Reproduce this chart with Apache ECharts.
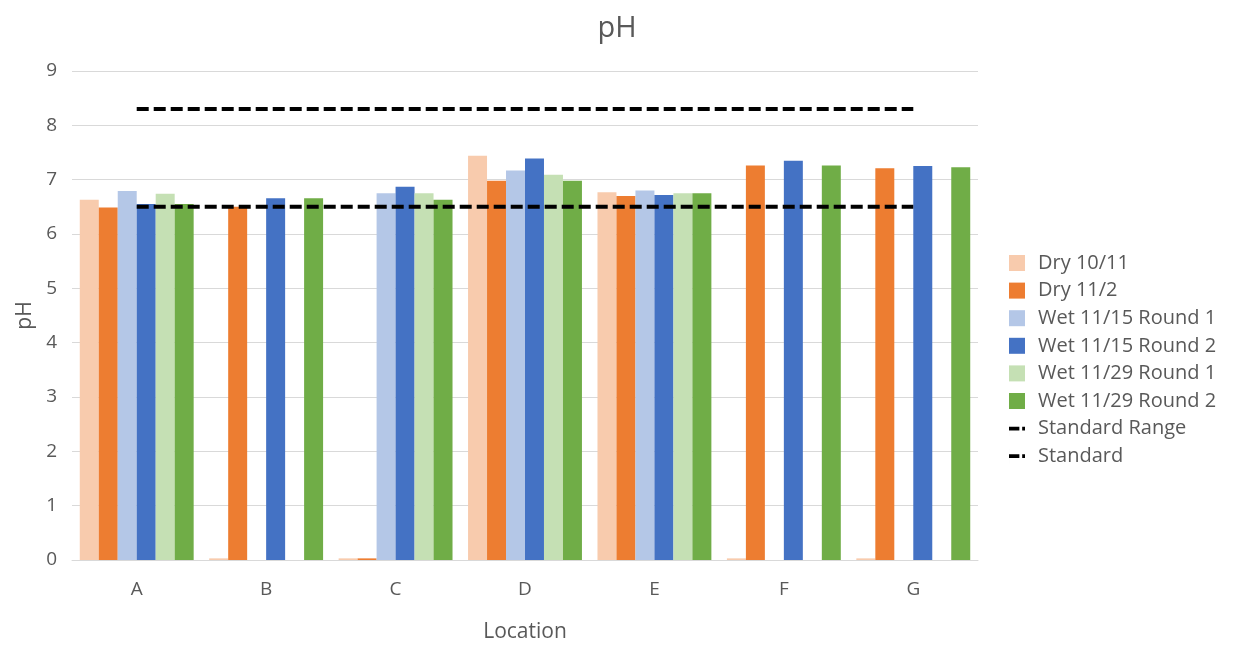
<!DOCTYPE html>
<html>
<head>
<meta charset="utf-8">
<script src="https://cdn.jsdelivr.net/npm/echarts@6/dist/echarts.min.js"></script>
<style>html,body{margin:0;padding:0;background:#fff;}#c{width:1240px;height:646px;}</style>
</head>
<body>
<div id="c"></div>
<script>
const categories = ['A', 'B', 'C', 'D', 'E', 'F', 'G'];
const seriesNames = ['Dry 10/11', 'Dry 11/2', 'Wet 11/15 Round 1', 'Wet 11/15 Round 2', 'Wet 11/29 Round 1', 'Wet 11/29 Round 2'];
const dry1011 = [6.63, 0.03, 0.03, 7.44, 6.77, 0.03, 0.03];
const dry112 = [6.49, 6.50, 0.03, 6.98, 6.70, 7.26, 7.21];
const wet1115r1 = [6.79, null, 6.75, 7.17, 6.80, null, null];
const wet1115r2 = [6.55, 6.66, 6.87, 7.39, 6.72, 7.35, 7.25];
const wet1129r1 = [6.74, null, 6.75, 7.09, 6.75, null, null];
const wet1129r2 = [6.55, 6.66, 6.63, 6.98, 6.75, 7.26, 7.23];
const standardRange = [8.3, 8.3, 8.3, 8.3, 8.3, 8.3, 8.3];
const standard = [6.5, 6.5, 6.5, 6.5, 6.5, 6.5, 6.5];
const yTicks = [0, 1, 2, 3, 4, 5, 6, 7, 8, 9];

const colors = ['#F8CBAD', '#ED7D31', '#B4C7E7', '#4472C4', '#C5E0B4', '#70AD47'];
const barData = [dry1011, dry112, wet1115r1, wet1115r2, wet1129r1, wet1129r2];
const font = '"Open Sans", Lato, sans-serif';
const txt = '#595959';
const dashIcon = 'path://M0,6 h11 v4 h-11z M14,6 h3 v4 h-3z M0,0 h0.01 v16 h-0.01z';

const series = barData.map((d, i) => ({
  name: seriesNames[i],
  type: 'bar',
  data: d,
  barGap: '0%',
  barCategoryGap: '12%',
  itemStyle: { color: colors[i] },
  z: 2
}));
[['Standard Range', standardRange], ['Standard', standard]].forEach(([n, d]) => {
  series.push({
    name: n,
    type: 'line',
    data: d,
    symbol: 'none',
    lineStyle: { color: '#000', width: 4, type: [12, 5] },
    itemStyle: { color: '#000' },
    z: 5
  });
});

const legendData = seriesNames.map(n => ({ name: n, icon: 'rect' }))
  .concat([{ name: 'Standard Range', icon: dashIcon, itemStyle: { color: '#000' } },
           { name: 'Standard', icon: dashIcon, itemStyle: { color: '#000' } }]);

const chart = echarts.init(document.getElementById('c'));
chart.setOption({
  animation: false,
  textStyle: { fontFamily: font },
  title: {
    text: 'pH', left: 612, top: 9, textAlign: 'center',
    textStyle: { fontSize: 29, fontWeight: 'normal', color: txt, fontFamily: font }
  },
  legend: {
    orient: 'vertical', left: 1004, top: 248,
    itemWidth: 16, itemHeight: 16, itemGap: 7.6,
    textStyle: { fontSize: 20, color: txt, fontFamily: font, padding: [0, 0, 0, 8] },
    data: legendData
  },
  grid: { left: 72, right: 262, top: 71, bottom: 86, containLabel: false, outerBoundsMode: 'none' },
  xAxis: {
    type: 'category', data: categories,
    name: 'Location', nameLocation: 'middle', nameGap: 62,
    nameTextStyle: { fontSize: 21, color: txt, fontFamily: font },
    axisLine: { lineStyle: { color: '#d9d9d9', width: 1 } },
    axisTick: { show: false },
    axisLabel: { fontSize: 19, color: txt, margin: 20, fontFamily: font }
  },
  yAxis: {
    type: 'value', min: yTicks[0], max: yTicks[yTicks.length - 1], interval: 1,
    name: 'pH', nameLocation: 'middle', nameGap: 36, nameRotate: 90,
    nameTextStyle: { fontSize: 21, color: txt, fontFamily: font },
    axisLine: { show: false }, axisTick: { show: false },
    axisLabel: { fontSize: 19, color: txt, margin: 15, fontFamily: font },
    splitLine: { lineStyle: { color: '#d9d9d9', width: 1 } }
  },
  series: series
});
</script>
</body>
</html>
